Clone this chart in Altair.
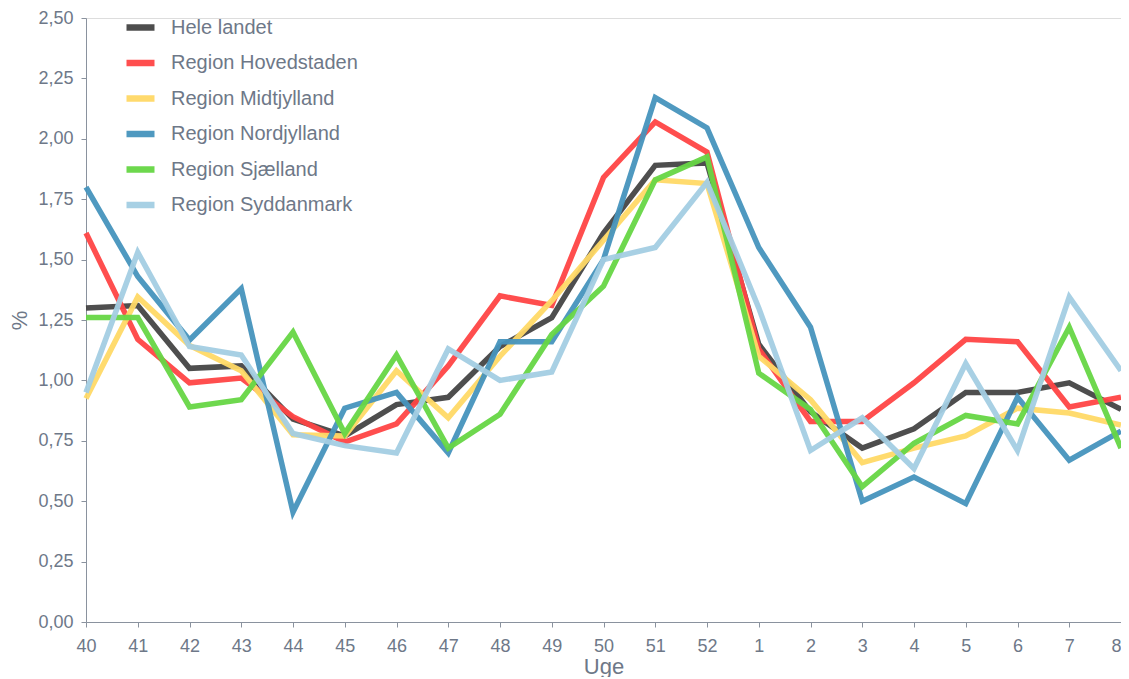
import altair as alt
import pandas as pd

weeks = ["40", "41", "42", "43", "44", "45", "46", "47", "48", "49", "50",
         "51", "52", "1", "2", "3", "4", "5", "6", "7", "8"]

series_names = ["Hele landet", "Region Hovedstaden", "Region Midtjylland",
                "Region Nordjylland", "Region Sjælland", "Region Syddanmark"]

hele_landet = [1.30, 1.31, 1.05, 1.06, 0.84, 0.77, 0.90, 0.93, 1.14, 1.26, 1.61,
               1.89, 1.90, 1.15, 0.87, 0.72, 0.80, 0.95, 0.95, 0.99, 0.88]
hovedstaden = [1.61, 1.17, 0.99, 1.01, 0.85, 0.745, 0.82, 1.06, 1.35, 1.31, 1.84,
               2.07, 1.945, 1.13, 0.83, 0.83, 0.99, 1.17, 1.16, 0.89, 0.93]
midtjylland = [0.925, 1.345, 1.145, 1.04, 0.775, 0.77, 1.04, 0.845, 1.10, 1.33, 1.58,
               1.83, 1.815, 1.10, 0.92, 0.66, 0.72, 0.77, 0.885, 0.865, 0.815]
nordjylland = [1.80, 1.43, 1.167, 1.38, 0.455, 0.885, 0.95, 0.70, 1.16, 1.16, 1.50,
               2.17, 2.045, 1.55, 1.22, 0.50, 0.60, 0.49, 0.93, 0.67, 0.79]
sjaelland = [1.26, 1.26, 0.89, 0.92, 1.20, 0.78, 1.105, 0.72, 0.86, 1.19, 1.39,
             1.83, 1.925, 1.03, 0.88, 0.56, 0.74, 0.855, 0.82, 1.22, 0.72]
syddanmark = [0.95, 1.53, 1.14, 1.105, 0.78, 0.73, 0.70, 1.13, 1.00, 1.035, 1.50,
              1.55, 1.82, 1.30, 0.71, 0.845, 0.635, 1.07, 0.71, 1.345, 1.04]

colors = ["#444444", "#ff4545", "#ffd966", "#4694bd", "#66d644", "#a3cee3"]

y_ticks = [0, 0.25, 0.5, 0.75, 1.0, 1.25, 1.5, 1.75, 2.0, 2.25, 2.5]

all_values = [hele_landet, hovedstaden, midtjylland, nordjylland, sjaelland, syddanmark]
rows = []
for si, (name, vals) in enumerate(zip(series_names, all_values)):
    for wi, (w, v) in enumerate(zip(weeks, vals)):
        rows.append({"Uge": w, "pct": v, "serie": name, "order": si})
df = pd.DataFrame(rows)

font = "Liberation Sans"
gray = "#6e7888"
axis_gray = "#8a929e"

chart = alt.Chart(df).mark_line(strokeWidth=5.5, opacity=0.95, strokeJoin="miter").encode(
    x=alt.X("Uge:O", sort=weeks,
            scale=alt.Scale(type="point", padding=0),
            axis=alt.Axis(title="Uge", labelAngle=0, labelFontSize=18, titleFontSize=22,
                          titleFontWeight="normal", labelColor=gray, titleColor=gray,
                          domainColor=axis_gray, tickColor=axis_gray, tickSize=5,
                          labelPadding=10, titlePadding=1, labelFont=font, titleFont=font,
                          labelAlign={"condition": {"test": "datum.value == '8'", "value": "right"},
                                      "value": "center"},
                          grid=False)),
    y=alt.Y("pct:Q",
            scale=alt.Scale(domain=[0, 2.5], nice=False, zero=True),
            axis=alt.Axis(title="%", values=y_ticks, labelFontSize=18, titleFontSize=22,
                          titleFontWeight="normal", labelColor=gray, titleColor=gray,
                          domainColor=axis_gray, tickColor=axis_gray, tickSize=5,
                          labelPadding=8, titlePadding=6, labelFont=font, titleFont=font,
                          labelExpr="replace(format(datum.value, '.2f'), '.', ',')",
                          grid=False)),
    color=alt.Color("serie:N", sort=series_names,
                    scale=alt.Scale(domain=series_names, range=colors),
                    legend=alt.Legend(title=None, orient="none", legendX=37, legendY=-8,
                                      symbolType="stroke", symbolStrokeWidth=6.5,
                                      symbolSize=784, symbolOpacity=0.95,
                                      labelFontSize=20, labelFont=font, labelColor=gray,
                                      labelLimit=400,
                                      labelOffset=13, rowPadding=4.5, padding=0)),
    detail="order:O",
    order="order:Q",
).properties(
    width=1035, height=604,
    autosize=alt.AutoSizeParams(type="none"),
    padding={"left": 78, "top": 10, "right": 0, "bottom": 55},
).configure_view(stroke=None).configure(background="white")

chart.save("out.html", embed_options={"renderer": "svg", "actions": False})
